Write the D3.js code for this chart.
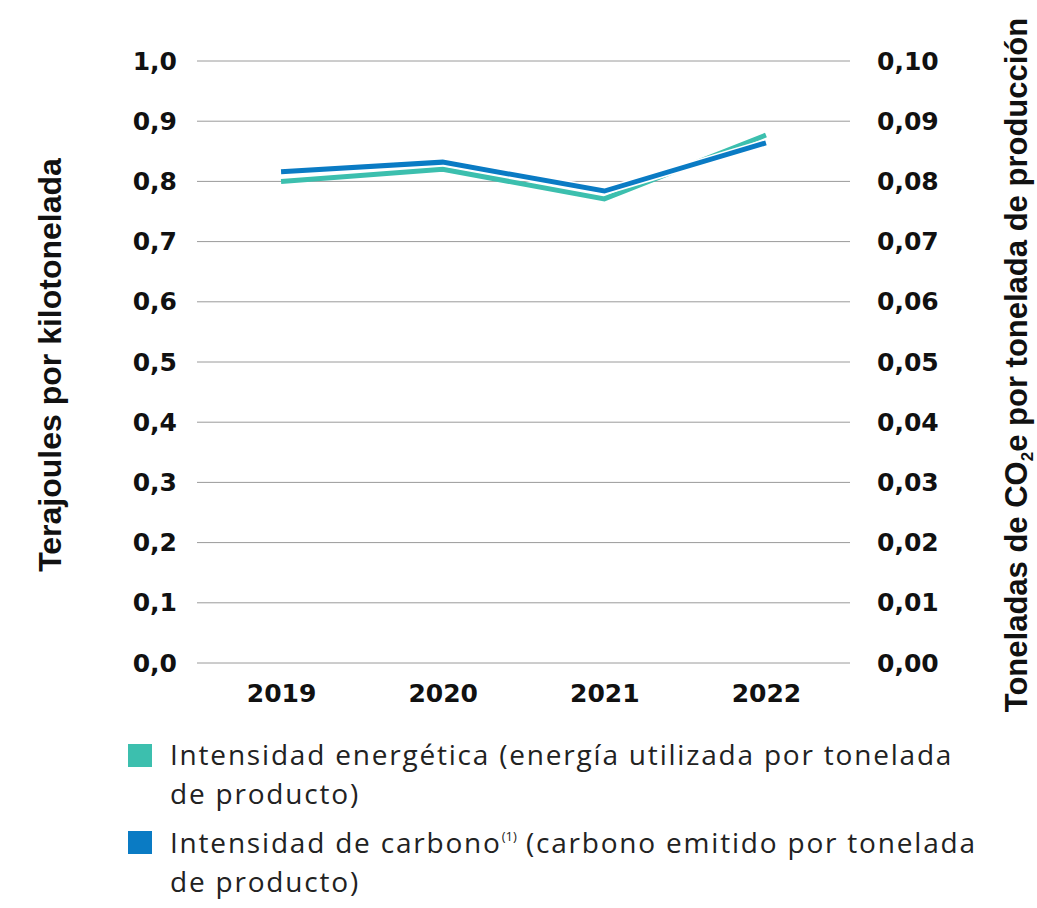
<!DOCTYPE html>
<html>
<head>
<meta charset="utf-8">
<script src="https://cdn.jsdelivr.net/npm/d3@7"></script>
<style>
  body { margin: 0; background: #fff; }
  svg { display: block; }
</style>
</head>
<body>
<svg id="chart" width="1037" height="908"></svg>
<script>
// Years on the x axis
const years = ["2019", "2020", "2021", "2022"];
// Energy intensity, terajoules per kilotonne (left axis)
const energyIntensity = [0.80, 0.82, 0.771, 0.877];
// Carbon intensity, t CO2e per tonne of production (right axis)
const carbonIntensity = [0.0816, 0.0832, 0.0784, 0.0864];
// Tick values for both axes
const leftTicks = [0, 0.1, 0.2, 0.3, 0.4, 0.5, 0.6, 0.7, 0.8, 0.9, 1.0];
const rightTicks = [0, 0.01, 0.02, 0.03, 0.04, 0.05, 0.06, 0.07, 0.08, 0.09, 0.10];

const teal = "#3cbfae";
const blue = "#0a7bc4";

const svg = d3.select("#chart");
const plot = { left: 197, right: 850, top: 61, bottom: 663 };

const x = d3.scalePoint().domain(years).range([plot.left, plot.right]).padding(0.52);
const yL = d3.scaleLinear().domain([0, 1.0]).range([plot.bottom, plot.top]);
const yR = d3.scaleLinear().domain([0, 0.10]).range([plot.bottom, plot.top]);

const tickFont = "'DejaVu Sans', sans-serif";
const titleFont = "'Liberation Sans', Arial, sans-serif";
const tickSize = 25;

// Horizontal grid lines
svg.append("g")
  .selectAll("line")
  .data(leftTicks)
  .join("line")
  .attr("x1", plot.left).attr("x2", plot.right)
  .attr("y1", d => yL(d)).attr("y2", d => yL(d))
  .attr("stroke", "#9a9a9a").attr("stroke-width", 1);

// Tick label formats with decimal comma
const fmt1 = d => d3.format(".1f")(d).replace(".", ",");
const fmt2 = d => d3.format(".2f")(d).replace(".", ",");

function styleTicks(g) {
  g.select(".domain").remove();
  g.selectAll("text")
    .attr("font-family", tickFont).attr("font-weight", "bold")
    .attr("font-size", tickSize).attr("fill", "#111");
}

// Left axis
svg.append("g")
  .attr("transform", `translate(${plot.left},0)`)
  .call(d3.axisLeft(yL).tickValues(leftTicks).tickFormat(fmt1).tickSize(0).tickPadding(20))
  .call(styleTicks);

// Right axis
svg.append("g")
  .attr("transform", `translate(${plot.right},0)`)
  .call(d3.axisRight(yR).tickValues(rightTicks).tickFormat(fmt2).tickSize(0).tickPadding(27))
  .call(styleTicks);

// Bottom axis (years)
svg.append("g")
  .attr("transform", `translate(0,${plot.bottom})`)
  .call(d3.axisBottom(x).tickSize(0).tickPadding(21))
  .call(styleTicks);

// Axis titles
svg.append("text")
  .attr("transform", `translate(61,365) rotate(-90)`)
  .attr("text-anchor", "middle")
  .attr("font-family", titleFont).attr("font-weight", "bold")
  .attr("font-size", 32).attr("fill", "#111")
  .text("Terajoules por kilotonelada");

const rt = svg.append("text")
  .attr("transform", `translate(1027,365) rotate(-90)`)
  .attr("text-anchor", "middle")
  .attr("font-family", titleFont).attr("font-weight", "bold")
  .attr("font-size", 31).attr("fill", "#111");
rt.append("tspan").text("Toneladas de CO");
rt.append("tspan").attr("font-size", 17).attr("dy", 6).text("2");
rt.append("tspan").attr("dy", -6).text("e por tonelada de producción");

// Lines
const energyLine = d3.line().x((d, i) => x(years[i])).y(d => yL(d));
const carbonLine = d3.line().x((d, i) => x(years[i])).y(d => yR(d));

svg.append("path")
  .datum(energyIntensity)
  .attr("d", energyLine)
  .attr("fill", "none").attr("stroke", teal).attr("stroke-width", 5);

// White halo under the blue line
svg.append("path")
  .datum(carbonIntensity)
  .attr("d", carbonLine)
  .attr("fill", "none").attr("stroke", "#fff").attr("stroke-width", 8);
svg.append("path")
  .datum(carbonIntensity)
  .attr("d", carbonLine)
  .attr("fill", "none").attr("stroke", blue).attr("stroke-width", 5);

// Legend
const legendFont = "'Open Sans', 'Liberation Sans', sans-serif";
const legendItems = [
  { color: teal, y: 744, base: 765, lines: [["Intensidad energética (energía utilizada por tonelada"], ["de producto)"]] },
  { color: blue, y: 831, base: 853, lines: [["Intensidad de carbono", "(1)", " (carbono emitido por tonelada"], ["de producto)"]] }
];
const lg = svg.append("g");
legendItems.forEach(item => {
  lg.append("rect")
    .attr("x", 128).attr("y", item.y).attr("width", 24).attr("height", 23)
    .attr("fill", item.color);
  item.lines.forEach((parts, li) => {
    const t = lg.append("text")
      .attr("x", 170).attr("y", item.base + li * 39)
      .attr("font-family", legendFont).attr("font-weight", 400)
      .attr("font-size", 28).attr("letter-spacing", 1.8).attr("fill", "#222");
    if (parts.length === 1) {
      t.text(parts[0]);
    } else {
      t.append("tspan").text(parts[0]);
      t.append("tspan").attr("font-size", 13).attr("letter-spacing", 0).attr("dy", -12).text(parts[1]);
      t.append("tspan").attr("letter-spacing", 1.8).attr("dy", 12).text(parts[2]);
    }
  });
});
</script>
</body>
</html>
